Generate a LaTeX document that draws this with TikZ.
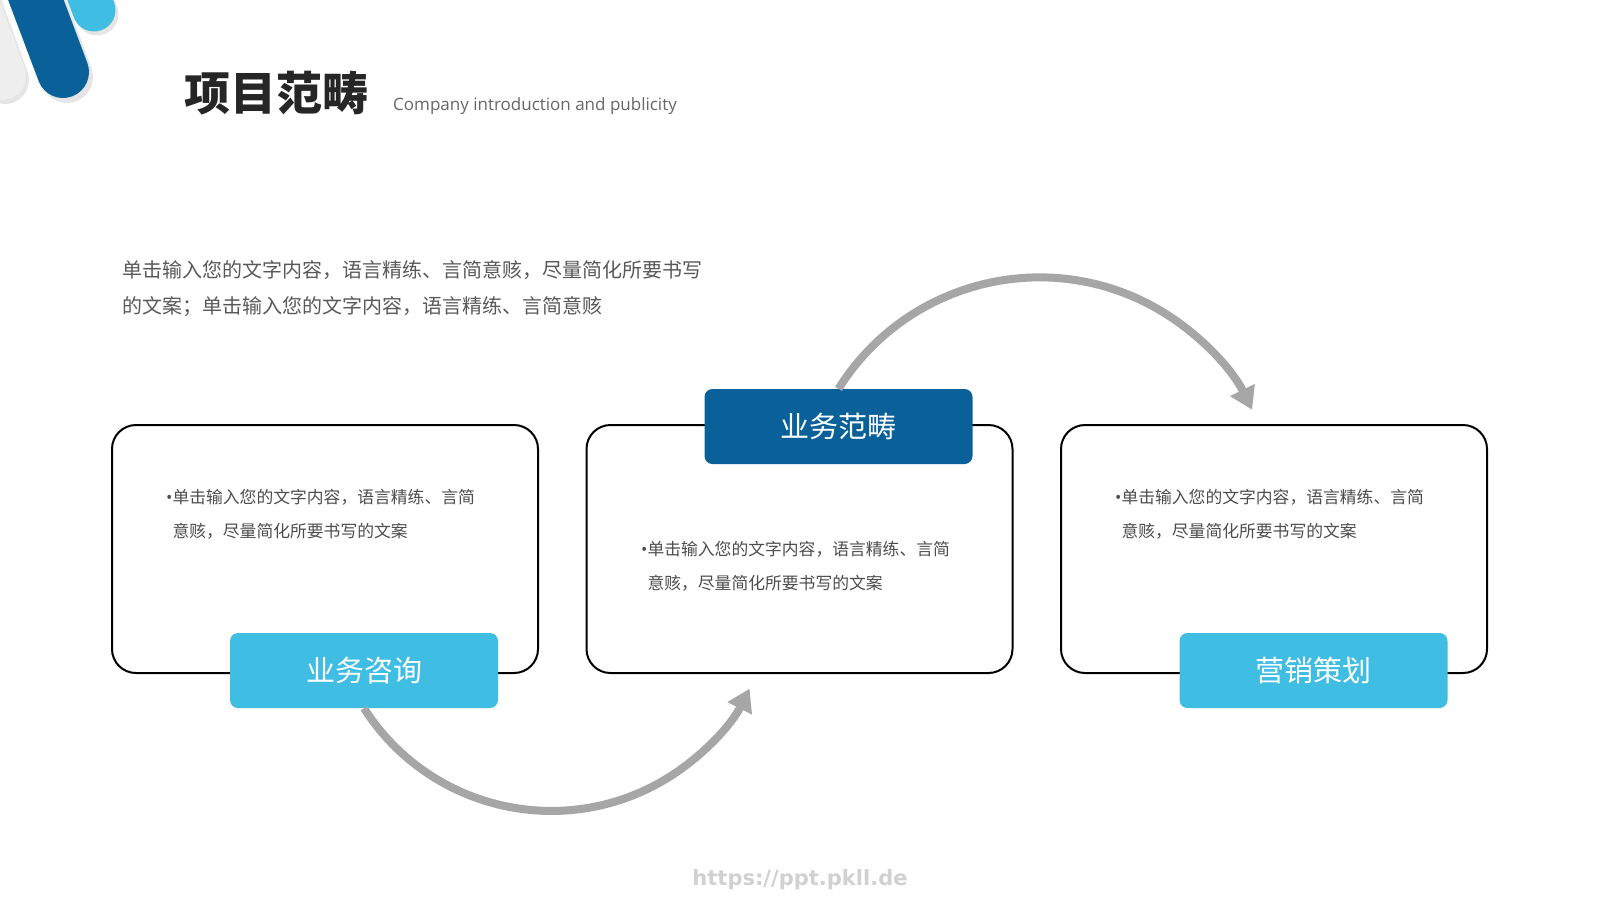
\documentclass[tikz,border=0pt]{standalone}
\usepackage{fontspec}
\setmainfont{Open Sans}
\newfontfamily\cjk{Noto Sans CJK SC}
\newfontfamily\markfont{DejaVu Sans}
\usetikzlibrary{calc,arrows.meta}
\usetikzlibrary{positioning}
\definecolor{deepblue}{HTML}{0A6199}
\definecolor{skyblue}{HTML}{40BDE3}
\definecolor{arcgray}{HTML}{A6A6A6}
\definecolor{logogray}{HTML}{EEEEEE}
\definecolor{inkgray}{HTML}{4D4D4D}
\newcommand{\dotmark}{{\rmfamily\textbullet}}

\begin{document}
\begin{tikzpicture}[x=1pt,y=-1pt,
  card/.style={draw=black,line width=2pt,rounded corners=24pt,minimum width=426pt,minimum height=248pt},
  tag/.style={rounded corners=8pt,minimum width=268pt,minimum height=75pt,text=white,font=\cjk\fontsize{29}{29}\selectfont},
  cardtext/.style={anchor=west,align=left,inner sep=0pt,text=inkgray,font=\cjk\fontsize{16.8}{34}\selectfont},
  flow/.style={draw=arcgray,line width=8pt,-{Triangle[length=22pt,width=26pt]}}]
\fill[white] (0,0) rectangle (1600,900);
\useasboundingbox (0,0) rectangle (1600,900);
\begin{scope}
\clip (0,0) rectangle (1600,900);
\draw[line width=48pt,line cap=round,color=black!10] (-43,-52) -- (5,80);
\draw[line width=48pt,line cap=round,color=logogray] (-47,-56) -- (2,76);
\draw[line width=43pt,line cap=round,color=black!10] (62,-80) -- (97,14);
\draw[line width=43pt,line cap=round,color=skyblue] (59,-83) -- (94,10);
\draw[line width=52pt,line cap=round,color=black!10] (14,-65) -- (67,77);
\draw[line width=52pt,line cap=round,color=deepblue] (10,-69) -- (63,72);
\end{scope}

\node[anchor=west,inner sep=0pt,text=black!85,font=\cjk\bfseries\fontsize{46}{46}\selectfont](title) at (184,93){项目范畴};
\node[anchor=west,inner sep=0pt,text=black!60,font=\fontsize{17}{17}\selectfont](subtitle) at (393,106){Company introduction and publicity};
\node[anchor=west,align=left,inner sep=0pt,text=black!65,font=\cjk\fontsize{20}{36}\selectfont](intro) at (122,289){单击输入您的文字内容，语言精练、言简意赅，尽量简化所要书写\\的文案；单击输入您的文字内容，语言精练、言简意赅};

\node[card](c1) at (325,549){};
\node[card](c2) at (799.5,549){};
\node[card](c3) at (1274,549){};

\node[cardtext](t1) at (166,514){\dotmark 单击输入您的文字内容，语言精练、言简\\\hphantom{\dotmark}意赅，尽量简化所要书写的文案};
\node[cardtext](t2) at (641,566){\dotmark 单击输入您的文字内容，语言精练、言简\\\hphantom{\dotmark}意赅，尽量简化所要书写的文案};
\node[cardtext](t3) at (1115,514){\dotmark 单击输入您的文字内容，语言精练、言简\\\hphantom{\dotmark}意赅，尽量简化所要书写的文案};

\node[tag,fill=skyblue](zx) at (364,670.5){业务咨询};
\node[tag,fill=deepblue](fc) at (838.5,426.5){业务范畴};
\node[tag,fill=skyblue](ch) at (1313.5,670.5){营销策划};

\draw[flow] (zx.south) arc[start angle=147.5,end angle=26.7,radius=222];
\draw[flow] (fc.north) arc[start angle=-148,end angle=-26.2,radius=237];

\node[text=black!18,font=\markfont\bfseries\fontsize{21}{21}\selectfont](mark) at (800,880){https://ppt.pkll.de};
\end{tikzpicture}
\end{document}
